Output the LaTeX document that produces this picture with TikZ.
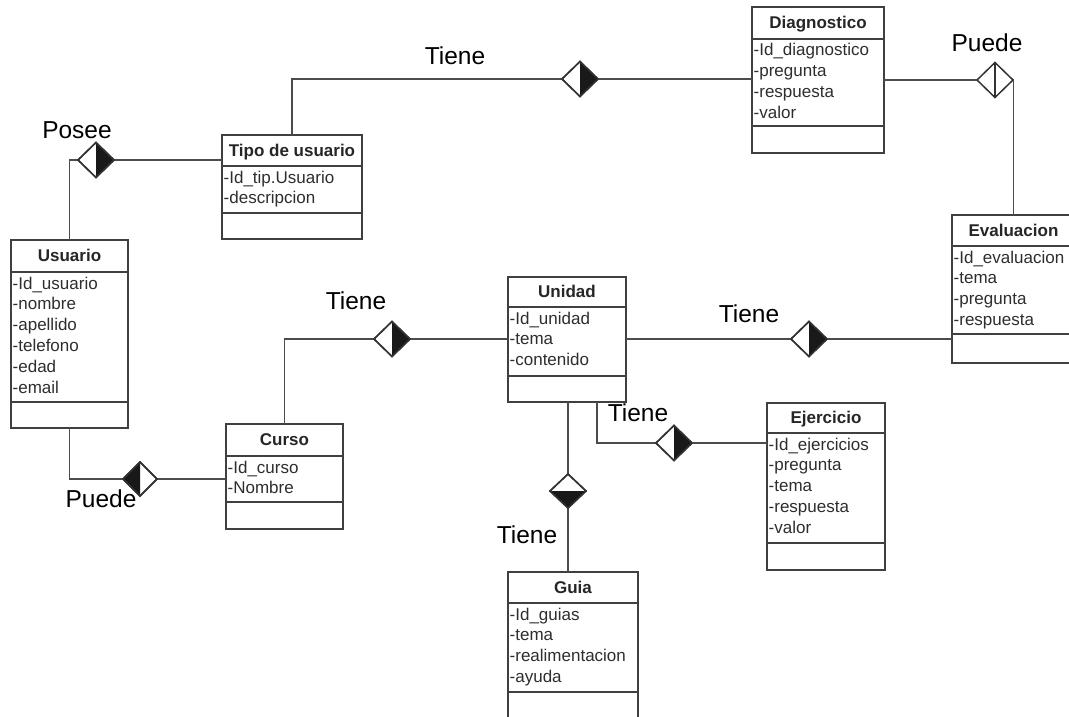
\documentclass[tikz,border=0pt]{standalone}
\usepackage{fontspec}
\setmainfont{Liberation Sans}
\usetikzlibrary{shapes.geometric}

\tikzset{
  boxline/.style={draw=black!75, line width=1.9pt},
  line/.style={draw=black!70, line width=1.9pt},
  classbox/.style={draw=black!75, line width=1.9pt, fill=white, inner sep=0pt, outer sep=0pt},
  ctitle/.style={font=\fontsize{17}{20}\selectfont\bfseries, text=black!85, inner sep=0pt},
  attr/.style={font=\fontsize{17}{20}\selectfont, text=black!82, inner sep=0pt},
  rel/.style={font=\fontsize{24.5}{28}\selectfont, text=black, inner sep=0pt},
  assoc/.style={diamond, draw=black!80, line width=1.5pt, fill=white, inner sep=0pt,
    outer sep=0pt, minimum width=36pt, minimum height=35pt},
}

% class box: name, left, right, top, title rule, attribute rule, bottom, title, attributes
\newcommand\umlclass[9]{%
  \node[classbox, anchor=north west, minimum width={#3pt-#2pt}, minimum height={#7pt-#4pt}] (#1) at (#2,#4) {};
  \draw[boxline] (#2,#5) -- (#3,#5);
  \draw[boxline] (#2,#6) -- (#3,#6);
  \node[ctitle, anchor=base] (#1-title) at ({(#2+#3)/2},{(#4+#5)/2+5.5}) {#8};
  \foreach \a [count=\i] in {#9}
    \node[attr, anchor=base west] (#1-a\i) at ({#2+1.5},{#5+17+(\i-1)*20.8}) {\a};
}
% half-filled diamonds
\newcommand\halfright[1]{\fill[black!90] (#1.north) -- (#1.east) -- (#1.south) -- cycle;
  \draw[black!80, line width=1.5pt, line join=miter] (#1.north) -- (#1.east) -- (#1.south) -- (#1.west) -- cycle;}
\newcommand\halfleft[1]{\fill[black!90] (#1.north) -- (#1.west) -- (#1.south) -- cycle;
  \draw[black!80, line width=1.5pt, line join=miter] (#1.north) -- (#1.east) -- (#1.south) -- (#1.west) -- cycle;}
\newcommand\halfbottom[1]{\fill[black!90] (#1.west) -- (#1.south) -- (#1.east) -- cycle;
  \draw[black!80, line width=1.5pt, line join=miter] (#1.north) -- (#1.east) -- (#1.south) -- (#1.west) -- cycle;}

\begin{document}
\begin{tikzpicture}[x=1pt, y=-1pt]
  \fill[white] (0,0) rectangle (1069,717);
  \useasboundingbox (0,0) rectangle (1069,717);
  \clip (0,0) rectangle (1069,717);

  % classes
  \umlclass{diag}{752}{884}{7}{39}{126}{153}{Diagnostico}{-Id\_diagnostico,-pregunta,-respuesta,-valor}
  \umlclass{tipo}{222}{362}{135}{166}{213}{239}{Tipo de usuario}{-Id\_tip.Usuario,-descripcion}
  \umlclass{usuario}{11}{128}{240}{272}{402}{428}{Usuario}{-Id\_usuario,-nombre,-apellido,-telefono,-edad,-email}
  \umlclass{eval}{952}{1075}{215}{246}{334}{363}{Evaluacion}{-Id\_evaluacion,-tema,-pregunta,-respuesta}
  \umlclass{unidad}{508}{626}{277}{307}{376}{402}{Unidad}{-Id\_unidad,-tema,-contenido}
  \umlclass{curso}{226}{343}{424}{456}{502}{529}{Curso}{-Id\_curso,-Nombre}
  \umlclass{ejer}{767}{885}{403}{433}{543}{570}{Ejercicio}{-Id\_ejercicios,-pregunta,-tema,-respuesta,-valor}
  \umlclass{guia}{508}{638}{572}{603}{692}{730}{Guia}{-Id\_guias,-tema,-realimentacion,-ayuda}

  % association diamonds
  \node[assoc] (posee) at (96,160) {};
  \node[assoc] (tienediag) at (580,79) {};
  \node[assoc] (puedeeval) at (995,80) {};
  \node[assoc, minimum width=34pt, minimum height=34pt] (puedecurso) at (140,479) {};
  \node[assoc] (tieneunidad) at (392,339) {};
  \node[assoc] (tieneeval) at (809,339) {};
  \node[assoc] (tieneejer) at (674,443) {};
  \node[assoc, minimum height=34pt] (tieneguia) at (568,491) {};
  \coordinate (uout) at (597,402);

  % connectors
  \draw[line] (tipo.west |- posee.east) -- (posee.east);
  \draw[line] (posee.west) -| (usuario.north);
  \draw[line] (tipo.north) |- (tienediag.west);
  \draw[line] (tienediag.east) -- (tienediag.east -| diag.west);
  \draw[line] (diag.east |- puedeeval.west) -- (puedeeval.west);
  \draw[line] (puedeeval.east) -| (eval.north);
  \draw[line] (usuario.south) |- (puedecurso.west);
  \draw[line] (puedecurso.east) -- (puedecurso.east -| curso.west);
  \draw[line] (curso.north) |- (tieneunidad.west);
  \draw[line] (tieneunidad.east) -- (tieneunidad.east -| unidad.west);
  \draw[line] (unidad.east |- tieneeval.west) -- (tieneeval.west);
  \draw[line] (tieneeval.east) -- (tieneeval.east -| eval.west);
  \draw[line] (uout) |- (tieneejer.west);
  \draw[line] (tieneejer.east) -- (tieneejer.east -| ejer.west);
  \draw[line] (tieneguia.north |- unidad.south) -- (tieneguia.north);
  \draw[line] (tieneguia.south) -- (tieneguia.south |- guia.north);

  % diamond fills
  \halfright{posee}
  \halfright{tienediag}
  \draw[black!80, line width=1.5pt] (puedeeval.north) -- (puedeeval.south);
  \halfleft{puedecurso}
  \halfright{tieneunidad}
  \halfright{tieneeval}
  \halfright{tieneejer}
  \halfbottom{tieneguia}

  % relation labels
  \node[rel, anchor=base] (lposee) at (77,138) {Posee};
  \node[rel, anchor=base] (ltienediag) at (455,65) {Tiene};
  \node[rel, anchor=base] (lpuedeeval) at (987,52) {Puede};
  \node[rel, anchor=base] (lpuedecurso) at (101,507) {Puede};
  \node[rel, anchor=base] (ltieneunidad) at (356,309) {Tiene};
  \node[rel, anchor=base] (ltieneeval) at (749,322) {Tiene};
  \node[rel, anchor=base] (ltieneejer) at (638,421) {Tiene};
  \node[rel, anchor=base] (ltieneguia) at (527,543) {Tiene};
\end{tikzpicture}
\end{document}
